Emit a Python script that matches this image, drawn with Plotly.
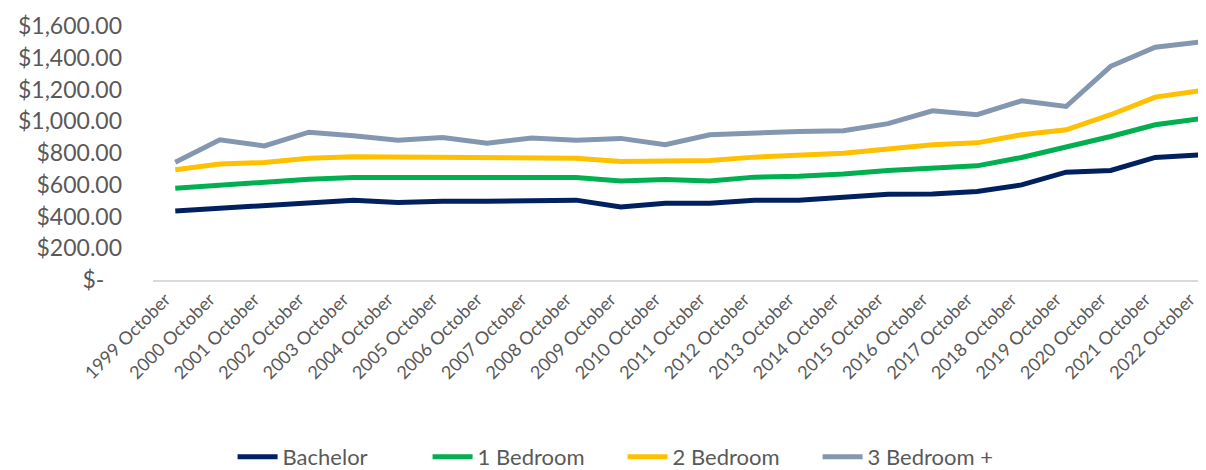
import plotly.graph_objects as go

years = list(range(1999, 2023))
categories = [f"{y} October" for y in years]

bachelor = [435, 452, 469, 488, 503, 488, 496, 496, 496, 503, 460, 484, 484, 503, 503, 522, 540, 542, 557, 599, 679, 690, 772, 788]
one_bed = [578, 599, 616, 635, 646, 646, 646, 646, 641, 646, 624, 633, 624, 648, 654, 667, 690, 704, 719, 772, 835, 904, 978, 1016]
two_bed = [694, 730, 740, 767, 776, 774, 778, 774, 772, 767, 747, 751, 753, 774, 788, 799, 825, 852, 864, 915, 946, 1041, 1152, 1192]
three_bed = [742, 883, 845, 931, 908, 881, 898, 862, 894, 881, 892, 852, 915, 927, 936, 940, 985, 1066, 1041, 1129, 1093, 1346, 1466, 1499]

series_names = ["Bachelor", "1 Bedroom", "2 Bedroom", "3 Bedroom +"]
series_values = [bachelor, one_bed, two_bed, three_bed]
colors = ["#002060", "#00B050", "#FFC000", "#8497B0"]

y_tickvals = [0, 200, 400, 600, 800, 1000, 1200, 1400, 1600]
y_ticktext = ["$-\u00a0\u00a0\u00a0", "$200.00", "$400.00", "$600.00", "$800.00",
              "$1,000.00", "$1,200.00", "$1,400.00", "$1,600.00"]

FONT = "Lato"
GREY = "#595959"

fig = go.Figure()
for name, vals, col in zip(series_names, series_values, colors):
    fig.add_trace(go.Scatter(
        x=categories, y=vals, name=name, mode="lines",
        line=dict(color=col, width=5, shape="linear"),
    ))

fig.update_layout(
    width=1206, height=470,
    margin=dict(l=145, r=0, t=18, b=198),
    paper_bgcolor="white", plot_bgcolor="white",
    font=dict(family=FONT, color=GREY),
    showlegend=True,
    legend=dict(
        orientation="h", x=0.075, xanchor="left", y=-0.70, yanchor="middle",
        font=dict(family=FONT, size=22, color=GREY),
        itemwidth=40, traceorder="normal",
        entrywidth=140, entrywidthmode="pixels",
    ),
    xaxis=dict(
        type="category", range=[-0.5, 23.32], automargin=False,
        showgrid=False, zeroline=False,
        showline=True, linecolor="#D9D9D9", linewidth=2,
        ticks="", tickangle=-45, ticklabelshift=-10,
        tickfont=dict(family=FONT, size=18, color=GREY),
    ),
    yaxis=dict(
        range=[0, 1600], tickvals=y_tickvals, ticktext=y_ticktext, automargin=False,
        showgrid=False, zeroline=False, showline=False, ticks="",
        tickfont=dict(family=FONT, size=23, color=GREY),
        ticklabelstandoff=30,
    ),
)

fig.write_html("out.html")
